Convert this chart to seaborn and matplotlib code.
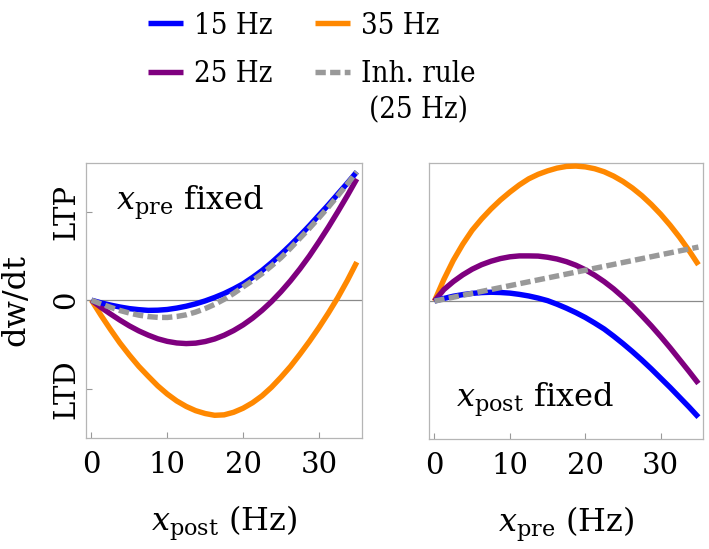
import matplotlib
matplotlib.use("Agg")
import matplotlib.pyplot as plt
from matplotlib.font_manager import FontProperties
import seaborn as sns

# ---- data (dw/dt in LTP units, rates in Hz) ----
rates = [0, 1.25, 2.5, 3.75, 5, 6.25, 7.5, 8.75, 10, 11.25, 12.5, 13.75, 15, 16.25,
         17.5, 18.75, 20, 21.25, 22.5, 23.75, 25, 26.25, 27.5, 28.75, 30, 31.25,
         32.5, 33.75, 35]

# left panel: x_pre fixed, dw/dt vs x_post
post_15 = [0, -0.03, -0.055, -0.077, -0.095, -0.107, -0.115, -0.113, -0.105, -0.089,
           -0.068, -0.041, -0.008, 0.031, 0.075, 0.127, 0.185, 0.257, 0.335, 0.424,
           0.52, 0.622, 0.73, 0.842, 0.96, 1.077, 1.20, 1.322, 1.45]
post_25 = [0, -0.081, -0.155, -0.225, -0.29, -0.347, -0.395, -0.436, -0.465, -0.483,
           -0.49, -0.485, -0.467, -0.438, -0.396, -0.343, -0.279, -0.203, -0.115,
           -0.016, 0.096, 0.219, 0.354, 0.50, 0.659, 0.825, 1.00, 1.181, 1.37]
post_35 = [0, -0.17, -0.33, -0.483, -0.62, -0.748, -0.86, -0.968, -1.06, -1.138,
           -1.20, -1.248, -1.28, -1.30, -1.295, -1.266, -1.22, -1.158, -1.08, -0.983,
           -0.87, -0.748, -0.61, -0.465, -0.31, -0.145, 0.03, 0.222, 0.43]
post_inh = [0, -0.042, -0.08, -0.116, -0.145, -0.169, -0.185, -0.194, -0.195, -0.184,
            -0.165, -0.134, -0.095, -0.047, 0.01, 0.076, 0.15, 0.222, 0.30, 0.387,
            0.48, 0.587, 0.70, 0.812, 0.93, 1.052, 1.18, 1.312, 1.45]

# right panel: x_post fixed, dw/dt vs x_pre
pre_15 = [0, 0.03, 0.055, 0.073, 0.087, 0.096, 0.10, 0.097, 0.09, 0.076, 0.058, 0.034,
          0.005, -0.035, -0.08, -0.13, -0.185, -0.248, -0.315, -0.395, -0.48, -0.57,
          -0.665, -0.765, -0.87, -0.975, -1.085, -1.195, -1.31]
pre_25 = [0, 0.13, 0.22, 0.296, 0.36, 0.411, 0.45, 0.48, 0.50, 0.51, 0.51, 0.508,
          0.495, 0.475, 0.445, 0.405, 0.354, 0.292, 0.22, 0.138, 0.045, -0.055,
          -0.165, -0.279, -0.40, -0.527, -0.66, -0.793, -0.93]
pre_35 = [0, 0.245, 0.46, 0.642, 0.80, 0.927, 1.04, 1.141, 1.23, 1.311, 1.38, 1.431,
          1.47, 1.501, 1.52, 1.524, 1.515, 1.494, 1.46, 1.411, 1.35, 1.276, 1.19,
          1.091, 0.98, 0.856, 0.72, 0.571, 0.41]
inh_rates = [0, 35]
pre_inh = [0, 0.61]

series_labels = ["15 Hz", "25 Hz", "35 Hz", "Inh. rule"]
inh_note = "(25 Hz)"
series_colors = ["#0000ff", "#7f007f", "#ff8800", "#999999"]
x_ticks = [0, 10, 20, 30]
y_ticks = [1, 0, -1]
y_ticklabels = ["LTP", "0", "LTD"]

# ---- style ----
sns.set_theme(style="white")
plt.rcParams["font.family"] = ["DejaVu Serif"]
plt.rcParams["mathtext.fontset"] = "dejavuserif"
plt.rcParams["text.color"] = "black"
plt.rcParams["axes.labelcolor"] = "black"

fig = plt.figure(figsize=(7.09, 5.49), dpi=100)
axL = fig.add_axes([0.1213, 0.2016, 0.3889, 0.5024])
axR = fig.add_axes([0.6051, 0.1998, 0.3869, 0.5027])

LW = 3.9
DASH = (0, (1.9, 0.8))


def draw(ax, x, y, color, dashed, z):
    sns.lineplot(x=x, y=y, ax=ax, color=color, linewidth=LW, sort=False,
                 estimator=None, zorder=z)
    ln = ax.lines[-1]
    if dashed:
        ln.set_linestyle(DASH)
    ln.set_solid_capstyle("butt")
    ln.set_solid_joinstyle("round")
    return ln


handles = {}
for ax, ys, xinh, yinh in [(axL, [post_15, post_25, post_35], rates, post_inh),
                           (axR, [pre_15, pre_25, pre_35], inh_rates, pre_inh)]:
    ax.axhline(0, color="#8a8a8a", lw=0.9, zorder=1)
    for i in [2, 1, 0]:
        handles[i] = draw(ax, rates, ys[i], series_colors[i], False, 3 + (2 - i))
    handles[3] = draw(ax, xinh, yinh, series_colors[3], True, 6)

    ax.set_xlim(-0.72, 35.65)
    ax.set_ylim(-1.56, 1.555)
    for s in ax.spines.values():
        s.set_visible(True)
        s.set_color("#b5b5b5")
        s.set_linewidth(0.9)
    ax.set_xticks(x_ticks)
    ax.set_xticklabels([str(t) for t in x_ticks])
    ax.tick_params(axis="x", direction="in", length=4.5, width=0.8, color="#999999",
                   labelsize=21, pad=9, bottom=True, labelcolor="black")

axL.set_yticks(y_ticks)
axL.set_yticklabels(y_ticklabels, rotation=90, va="center")
axL.tick_params(axis="y", direction="in", length=4.5, width=0.8, color="#999999",
                labelsize=21, pad=4, left=True, labelcolor="black")
axR.set_yticks([])
axR.set_ylabel("")

axL.set_xlabel(r"$x_{\mathrm{post}}$ (Hz)", fontsize=23, labelpad=18)
axR.set_xlabel(r"$x_{\mathrm{pre}}$ (Hz)", fontsize=23, labelpad=18)
axL.set_ylabel("dw/dt", fontsize=23, labelpad=15)

axL.text(0.109, 0.828, r"$x_{\mathrm{pre}}$ fixed", transform=axL.transAxes,
         fontsize=23, va="baseline", ha="left")
axR.text(0.097, 0.118, r"$x_{\mathrm{post}}$ fixed", transform=axR.transAxes,
         fontsize=23, va="baseline", ha="left")

leg_font = FontProperties(family="DejaVu Serif", stretch="condensed", size=21)
leg = fig.legend([handles[0], handles[1], handles[2], handles[3]], series_labels,
                 ncol=2, loc="upper left", bbox_to_anchor=(0.205, 0.984),
                 frameon=False, handlelength=1.2, handletextpad=0.38,
                 columnspacing=1.45, labelspacing=0.7, borderpad=0.1,
                 borderaxespad=0, prop=leg_font)

# second line of the "Inh. rule" entry, centred under it
fig.canvas.draw()
bb = leg.get_texts()[3].get_window_extent()
cx = 0.5 * (bb.x0 + bb.x1) / fig.bbox.width
fig.text(cx, 1 - 110 / 549, inh_note, ha="center", va="center",
         fontproperties=leg_font)

fig.savefig("out.png", dpi=100)
